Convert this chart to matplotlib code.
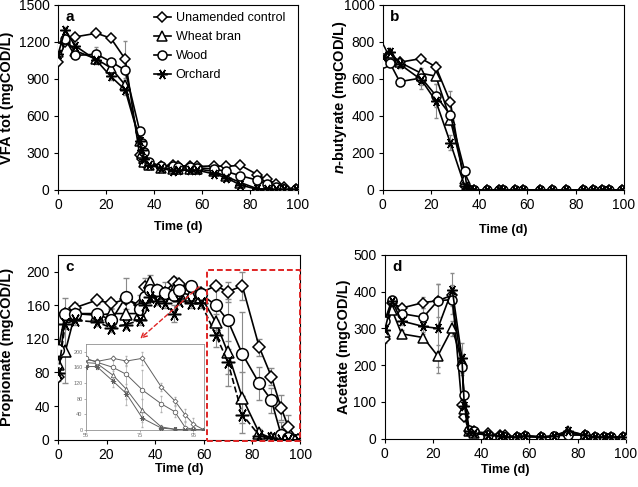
import matplotlib
matplotlib.use("Agg")
import matplotlib.pyplot as plt
from matplotlib.patches import Rectangle

plt.rcParams['font.family'] = ['Liberation Sans', 'DejaVu Sans']
plt.rcParams['mathtext.fontset'] = 'custom'
plt.rcParams['mathtext.it'] = 'Liberation Sans:italic:bold'

# sampling days
days = [0, 3, 7, 16, 22, 28, 34, 35, 36, 38, 43, 48, 50, 55, 58, 65, 70, 76, 83, 87, 91, 94, 99]
days_c = [0, 3, 7, 16, 22, 28, 34, 36, 38, 41, 44, 48, 50, 55, 59, 65, 70, 76, 83, 88, 92, 95, 99]
days_d = [0, 3, 7, 16, 22, 28, 32, 33, 35, 37, 43, 48, 50, 55, 58, 65, 70, 76, 83, 87, 91, 94, 99]

series = ['Unamended control', 'Wheat bran', 'Wood', 'Orchard']

# a: total VFA
vfa_ctrl = [1040, 1200, 1240, 1270, 1230, 1060, 285, 250, 215, 205, 195, 200, 195, 195, 190, 195, 190, 200, 125, 85, 50, 20, 10]
vfa_wheat = [1120, 1220, 1130, 1060, 990, 850, 400, 300, 230, 200, 180, 170, 170, 170, 170, 150, 110, 60, 10, 5, 5, 5, 5]
vfa_wood = [1160, 1220, 1090, 1100, 1040, 970, 480, 380, 310, 230, 190, 190, 185, 185, 180, 170, 150, 115, 80, 50, 25, 10, 5]
vfa_orch = [1100, 1300, 1170, 1050, 920, 810, 400, 320, 250, 200, 180, 150, 160, 160, 160, 130, 100, 40, 5, 5, 5, 5, 5]
vfa_ctrl_err = [30, 20, 20, 20, 20, 150, 20, 10, 10, 10, 10, 10, 10, 10, 10, 10, 10, 15, 10, 10, 10, 5, 5]
vfa_wheat_err = [20, 20, 20, 30, 20, 40, 30, 10, 10, 10, 10, 10, 10, 10, 10, 10, 10, 10, 5, 5, 5, 5, 5]
vfa_wood_err = [20, 20, 20, 60, 20, 30, 20, 10, 10, 10, 10, 10, 10, 10, 10, 10, 10, 10, 10, 10, 5, 5, 5]
vfa_orch_err = [20, 20, 20, 30, 30, 40, 30, 10, 10, 10, 10, 10, 10, 10, 10, 10, 10, 10, 5, 5, 5, 5, 5]

# b: n-butyrate
but_ctrl = [720, 710, 690, 710, 665, 475, 20, 0, 0, 0, 0, 0, 0, 0, 0, 0, 0, 0, 0, 0, 0, 0, 0]
but_wheat = [760, 740, 690, 630, 615, 380, 60, 0, 0, 0, 0, 0, 0, 0, 0, 0, 0, 0, 0, 0, 0, 0, 0]
but_wood = [685, 685, 585, 605, 510, 405, 100, 0, 0, 0, 0, 0, 0, 0, 0, 0, 0, 0, 0, 0, 0, 0, 0]
but_orch = [720, 745, 680, 595, 480, 255, 20, 0, 0, 0, 0, 0, 0, 0, 0, 0, 0, 0, 0, 0, 0, 0, 0]
but_ctrl_err = [10, 10, 10, 10, 25, 60, 5, 0, 0, 0, 0, 0, 0, 0, 0, 0, 0, 0, 0, 0, 0, 0, 0]
but_wheat_err = [10, 10, 10, 30, 20, 30, 10, 0, 0, 0, 0, 0, 0, 0, 0, 0, 0, 0, 0, 0, 0, 0, 0]
but_wood_err = [10, 10, 10, 40, 60, 20, 10, 0, 0, 0, 0, 0, 0, 0, 0, 0, 0, 0, 0, 0, 0, 0, 0]
but_orch_err = [10, 10, 20, 50, 90, 40, 10, 0, 0, 0, 0, 0, 0, 0, 0, 0, 0, 0, 0, 0, 0, 0, 0]

# c: propionate
prop_ctrl = [75, 150, 157, 166, 162, 167, 160, 182, 180, 172, 175, 188, 185, 180, 175, 183, 176, 183, 110, 75, 38, 15, 0]
prop_wheat = [90, 105, 150, 148, 150, 150, 150, 170, 188, 178, 175, 178, 175, 172, 170, 140, 104, 50, 8, 2, 0, 0, 0]
prop_wood = [107, 150, 150, 150, 142, 170, 155, 170, 178, 178, 175, 172, 178, 183, 173, 160, 142, 102, 67, 47, 6, 2, 0]
prop_orch = [79, 138, 142, 140, 133, 137, 142, 160, 170, 165, 162, 150, 165, 162, 162, 125, 93, 30, 5, 2, 0, 0, 0]
prop_ctrl_err = [5, 18, 5, 5, 5, 5, 12, 10, 5, 5, 5, 5, 5, 5, 5, 5, 12, 17, 10, 10, 15, 15, 0]
prop_wheat_err = [10, 37, 5, 5, 5, 5, 5, 5, 8, 5, 5, 5, 5, 5, 5, 10, 40, 30, 5, 2, 0, 0, 0]
prop_wood_err = [10, 5, 5, 5, 5, 22, 5, 5, 5, 5, 12, 5, 5, 5, 5, 18, 25, 50, 20, 15, 15, 5, 0]
prop_orch_err = [5, 5, 5, 5, 5, 5, 5, 5, 5, 5, 5, 10, 5, 5, 5, 15, 15, 22, 5, 2, 0, 0, 0]

# d: acetate
ace_ctrl = [270, 370, 355, 370, 375, 390, 92, 60, 20, 20, 15, 10, 10, 5, 8, 5, 5, 15, 10, 5, 5, 5, 5]
ace_wheat = [290, 350, 285, 275, 225, 300, 210, 80, 20, 15, 10, 8, 5, 5, 5, 5, 5, 20, 10, 2, 2, 2, 2]
ace_wood = [320, 378, 340, 330, 375, 378, 194, 118, 25, 20, 10, 8, 5, 5, 8, 5, 8, 10, 10, 5, 5, 5, 5]
ace_orch = [295, 375, 320, 305, 300, 405, 220, 90, 20, 15, 10, 8, 5, 5, 8, 5, 8, 22, 10, 5, 5, 5, 5]
ace_ctrl_err = [10, 10, 10, 15, 10, 10, 10, 5, 5, 5, 5, 5, 5, 5, 5, 5, 5, 5, 5, 5, 5, 5, 5]
ace_wheat_err = [10, 10, 10, 10, 30, 20, 20, 5, 5, 5, 5, 5, 5, 5, 5, 5, 5, 5, 5, 5, 5, 5, 5]
ace_wood_err = [10, 10, 10, 25, 45, 40, 20, 10, 5, 5, 5, 5, 5, 5, 5, 5, 5, 5, 5, 5, 5, 5, 5]
ace_orch_err = [10, 10, 10, 15, 120, 45, 40, 10, 5, 5, 5, 5, 5, 5, 5, 5, 5, 5, 5, 5, 5, 5, 5]

markers = ['D', '^', 'o', (6, 2, 90)]
msizes = [5.0, 6.5, 6.5, 7.5]

fig = plt.figure(figsize=(6.38, 4.87), dpi=100)
ax_a = fig.add_axes([0.091, 0.610, 0.376, 0.380])
ax_b = fig.add_axes([0.600, 0.610, 0.378, 0.380])
ax_c = fig.add_axes([0.091, 0.097, 0.380, 0.380])
ax_d = fig.add_axes([0.603, 0.099, 0.378, 0.378])


def draw(ax, x, ys, errs, scale=1.0, lw=1.2, dashed_last=False, color='black', ecolor='#8a8a8a', es=0.8):
    for y, e in zip(ys, errs):
        ax.errorbar(x, y, yerr=e, fmt='none', ecolor=ecolor, elinewidth=es, capsize=1.5 * scale, zorder=1)
    mew = 0.6 if scale < 1 else 1.1
    for i, y in enumerate(ys):
        ls = '--' if (dashed_last and i == 3) else '-'
        ax.plot(x, y, linestyle=ls, color=color, lw=lw, marker=markers[i],
                ms=msizes[i] * scale, mfc='white', mec=color, mew=mew,
                label=series[i], zorder=3 + i)


def style(ax, ylim, yticks, ylabel, letter, ylab_x, xlab_y):
    ax.set_xlim(0, 100)
    ax.set_ylim(*ylim)
    ax.set_xticks([0, 20, 40, 60, 80, 100])
    ax.set_yticks(yticks)
    ax.tick_params(labelsize=10, length=3, width=0.8, direction='out', pad=3)
    ax.set_xlabel('Time (d)', fontsize=9, fontweight='bold')
    ax.set_ylabel(ylabel, fontsize=10.5, fontweight='bold')
    ax.yaxis.set_label_coords(ylab_x, 0.5)
    ax.xaxis.set_label_coords(0.5, xlab_y)
    for s in ax.spines.values():
        s.set_linewidth(0.8)
    ax.text(0.03, 0.97, letter, transform=ax.transAxes, fontsize=11, fontweight='bold', va='top', ha='left')


draw(ax_a, days, [vfa_ctrl, vfa_wheat, vfa_wood, vfa_orch],
     [vfa_ctrl_err, vfa_wheat_err, vfa_wood_err, vfa_orch_err])
style(ax_a, (0, 1500), [0, 300, 600, 900, 1200, 1500], 'VFA tot (mgCOD/L)', 'a', -0.185, -0.17)
ax_a.legend(loc='upper left', bbox_to_anchor=(0.37, 1.0), frameon=False, fontsize=9,
            handlelength=1.3, handletextpad=0.4, labelspacing=0.55, borderaxespad=0.2)

draw(ax_b, days, [but_ctrl, but_wheat, but_wood, but_orch],
     [but_ctrl_err, but_wheat_err, but_wood_err, but_orch_err])
style(ax_b, (0, 1000), [0, 200, 400, 600, 800, 1000], r'$\mathit{n}$-butyrate (mgCOD/L)', 'b', -0.14, -0.185)

draw(ax_c, days_c, [prop_ctrl, prop_wheat, prop_wood, prop_orch],
     [prop_ctrl_err, prop_wheat_err, prop_wood_err, prop_orch_err], scale=1.3, dashed_last=True)
style(ax_c, (0, 220), [0, 40, 80, 120, 160, 200], 'Propionate (mgCOD/L)', 'c', -0.18, -0.125)

# zoom box and arrow
ax_c.add_patch(Rectangle((61.5, -1), 38.2, 203, fill=False, edgecolor='#e02424', lw=1.4,
                         linestyle=(0, (3, 1.5)), clip_on=False, zorder=10))
ax_c.annotate('', xy=(33, 118), xytext=(59, 184),
              arrowprops=dict(arrowstyle='->', color='#e02424', lw=1.0, linestyle=(0, (3, 2))), zorder=10)

# inset with the late phase
ins = fig.add_axes([0.135, 0.117, 0.185, 0.177])
late = [i for i, d in enumerate(days_c) if d >= 55]
x_late = [days_c[i] for i in late]
draw(ins, x_late, [[s[i] for i in late] for s in [prop_ctrl, prop_wheat, prop_wood, prop_orch]],
     [[s[i] for i in late] for s in [prop_ctrl_err, prop_wheat_err, prop_wood_err, prop_orch_err]],
     scale=0.5, lw=0.7, color='#606060', ecolor='#b0b0b0', es=0.5)
ins.set_xlim(55, 99)
ins.set_ylim(0, 220)
ins.set_xticks([55, 75, 95])
ins.set_yticks([0, 40, 80, 120, 160, 200])
ins.tick_params(labelsize=4, length=1.5, width=0.4, colors='#707070', pad=1)
for s in ins.spines.values():
    s.set_linewidth(0.6)
    s.set_color('#909090')
ins.set_zorder(8)

draw(ax_d, days_d, [ace_ctrl, ace_wheat, ace_wood, ace_orch],
     [ace_ctrl_err, ace_wheat_err, ace_wood_err, ace_orch_err])
style(ax_d, (0, 500), [0, 100, 200, 300, 400, 500], 'Acetate (mgCOD/L)', 'd', -0.14, -0.135)

fig.savefig('out.png', dpi=100)
